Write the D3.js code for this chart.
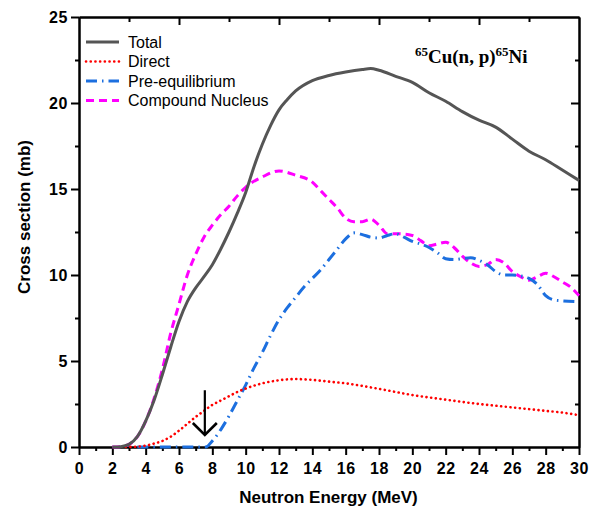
<!DOCTYPE html>
<html>
<head>
<meta charset="utf-8">
<script src="https://cdn.jsdelivr.net/npm/d3@7"></script>
<style>
  body { margin: 0; background: #fff; }
  svg { display: block; }
  .tick text { font-family: "Liberation Sans", Arial, sans-serif; font-weight: bold; font-size: 16px; letter-spacing: 0.6px; }
  .axis path, .axis line { stroke: #000; stroke-width: 2; }
  .legend text { font-family: "Liberation Sans", Arial, sans-serif; font-size: 16px; }
</style>
</head>
<body>
<script>
// 65Cu(n,p)65Ni cross sections (E in MeV, sigma in mb)
var totalE = [2, 2.5, 3, 3.5, 4, 4.5, 5, 5.5, 6, 6.5, 7, 7.5, 8, 8.5, 9, 9.5, 10, 10.5, 11, 11.5, 12, 12.5, 13, 14, 15, 16, 17, 17.5, 18, 19, 20, 21, 22, 23, 24, 25, 26, 27, 28, 29, 30];
var totalXS = [0, 0.02, 0.15, 0.6, 1.5, 2.7, 4.2, 5.8, 7.3, 8.45, 9.25, 9.9, 10.6, 11.5, 12.5, 13.6, 14.8, 16.3, 17.6, 18.7, 19.6, 20.2, 20.7, 21.3, 21.6, 21.8, 21.95, 22.0, 21.9, 21.55, 21.2, 20.6, 20.1, 19.5, 19.0, 18.6, 17.9, 17.2, 16.7, 16.1, 15.5];

var directE = [2.8, 3.5, 4, 4.5, 5, 5.5, 6, 6.5, 7, 7.5, 8, 8.5, 9, 9.5, 10, 11, 12, 13, 14, 15, 16, 17, 18, 19, 20, 21, 22, 23, 24, 25, 26, 27, 28, 29, 30];
var directXS = [0, 0.02, 0.08, 0.2, 0.35, 0.6, 0.95, 1.35, 1.75, 2.1, 2.45, 2.7, 2.95, 3.2, 3.4, 3.7, 3.88, 3.95, 3.9, 3.8, 3.7, 3.55, 3.38, 3.2, 3.02, 2.88, 2.75, 2.62, 2.5, 2.4, 2.3, 2.2, 2.1, 2.0, 1.85];

var preeqE = [3.5, 7.6, 8, 8.5, 9, 9.5, 10, 10.5, 11, 11.5, 12, 12.5, 13, 13.5, 14, 14.5, 15, 15.5, 16, 16.5, 17, 17.5, 18, 18.5, 19, 19.5, 20, 20.5, 21, 21.5, 22, 22.5, 23, 23.5, 24, 24.5, 25, 25.5, 26, 26.5, 27, 27.5, 28, 28.5, 29, 30];
var preeqXS = [0, 0, 0.35, 1.0, 1.8, 2.7, 3.6, 4.6, 5.5, 6.5, 7.4, 8.1, 8.7, 9.3, 9.8, 10.3, 10.9, 11.5, 12.1, 12.45, 12.35, 12.2, 12.15, 12.3, 12.4, 12.2, 11.95, 11.8, 11.6, 11.3, 10.95, 10.9, 10.95, 11.0, 10.85, 10.6, 10.2, 10.0, 10.0, 9.95, 9.8, 9.45, 8.8, 8.55, 8.5, 8.45];

var compoundE = [2, 2.5, 3, 3.5, 4, 4.5, 5, 5.5, 6, 6.5, 7, 7.5, 8, 8.5, 9, 9.5, 10, 11, 12, 13, 14, 14.5, 15, 15.5, 16, 16.5, 17, 17.5, 18, 18.5, 19, 20, 20.5, 21, 21.5, 22, 22.5, 23, 23.5, 24, 24.5, 25, 25.5, 26, 26.5, 27, 27.5, 28, 28.5, 29, 29.5, 30];
var compoundXS = [0, 0.02, 0.15, 0.6, 1.5, 2.8, 4.5, 6.6, 8.3, 10.0, 11.2, 12.2, 12.9, 13.5, 14.0, 14.6, 15.1, 15.7, 16.05, 15.8, 15.4, 14.9, 14.4, 13.9, 13.3, 13.1, 13.1, 13.25, 12.9, 12.4, 12.4, 12.3, 12.0, 11.7, 11.8, 11.9, 11.6, 11.1, 10.7, 10.5, 10.6, 10.9, 10.7, 10.2, 9.9, 9.7, 9.9, 10.1, 9.9, 9.6, 9.3, 8.8];

var seriesNames = ["Total", "Direct", "Pre-equilibrium", "Compound Nucleus"];
var xMajor = d3.range(0, 31, 2);
var yMajor = [0, 5, 10, 15, 20, 25];
var arrowE = 7.55, arrowFrom = 3.3, arrowTo = 0.7;

var W = 589, H = 508;
var margin = {top: 17, right: 10, bottom: 61, left: 79}
  , width = W - margin.left - margin.right
  , height = H - margin.top - margin.bottom;

var svg = d3.select("body").append("svg")
    .attr("width", W)
    .attr("height", H)
  .append("g")
    .attr("transform", "translate(" + margin.left + "," + margin.top + ")");

var x = d3.scaleLinear().domain([0, 30]).range([0, width]);
var y = d3.scaleLinear().domain([0, 25]).range([height, 0]);

function zip(es, vs) { return es.map(function(e, i) { return {e: e, v: vs[i]}; }); }

var series = [
  {name: seriesNames[0], data: zip(totalE, totalXS), color: "#555555", dash: null, cap: "butt", w: 3},
  {name: seriesNames[1], data: zip(directE, directXS), color: "#ff0000", dash: "0.1 4.6", cap: "round", w: 2.6},
  {name: seriesNames[2], data: zip(preeqE, preeqXS), color: "#1c6fdf", dash: "11 5 1.5 5", cap: "butt", w: 3},
  {name: seriesNames[3], data: zip(compoundE, compoundXS), color: "#ff00ff", dash: "8 5", cap: "butt", w: 3}
];

// axes: bottom + left outward, top + right inward
function fmtNone() { return ""; }

svg.append("g").attr("class", "axis")
    .attr("transform", "translate(0," + height + ")")
    .call(d3.axisBottom(x).tickValues(d3.range(1, 30, 2)).tickSize(4).tickSizeOuter(0).tickFormat(fmtNone));
svg.append("g").attr("class", "axis")
    .attr("transform", "translate(0," + height + ")")
    .call(d3.axisBottom(x).tickValues(xMajor).tickSize(8).tickPadding(8).tickSizeOuter(0).tickFormat(d3.format("d")));

svg.append("g").attr("class", "axis")
    .call(d3.axisLeft(y).tickValues([2.5, 7.5, 12.5, 17.5, 22.5]).tickSize(4).tickSizeOuter(0).tickFormat(fmtNone));
svg.append("g").attr("class", "axis")
    .call(d3.axisLeft(y).tickValues(yMajor).tickSize(8).tickPadding(3).tickSizeOuter(0).tickFormat(d3.format("d")));

svg.append("g").attr("class", "axis")
    .call(d3.axisBottom(x).tickValues([3, 9, 15, 21, 27]).tickSize(5).tickSizeOuter(0).tickFormat(fmtNone));
svg.append("g").attr("class", "axis")
    .call(d3.axisBottom(x).tickValues([6, 12, 18, 24]).tickSize(8).tickSizeOuter(0).tickFormat(fmtNone));

svg.append("g").attr("class", "axis")
    .attr("transform", "translate(" + width + ",0)")
    .call(d3.axisLeft(y).tickValues([2.5, 7.5, 12.5, 17.5, 22.5]).tickSize(4).tickSizeOuter(0).tickFormat(fmtNone));
svg.append("g").attr("class", "axis")
    .attr("transform", "translate(" + width + ",0)")
    .call(d3.axisLeft(y).tickValues([5, 10, 15, 20]).tickSize(8).tickSizeOuter(0).tickFormat(fmtNone));

// curves
var line = d3.line()
    .x(function(d) { return x(d.e); })
    .y(function(d) { return y(d.v); })
    .curve(d3.curveMonotoneX);

var gLines = svg.append("g");
series.slice().reverse().forEach(function(s) {
  gLines.append("path")
      .datum(s.data)
      .attr("d", line)
      .attr("fill", "none")
      .attr("stroke", s.color)
      .attr("stroke-width", s.w)
      .attr("stroke-linecap", s.cap)
      .attr("stroke-dasharray", s.dash);
});

// arrow marking the threshold
var ax = x(arrowE), ay0 = y(arrowFrom), ay1 = y(arrowTo);
svg.append("line")
    .attr("x1", ax).attr("x2", ax).attr("y1", ay0).attr("y2", ay1 - 1)
    .attr("stroke", "#000").attr("stroke-width", 2.2);
svg.append("path")
    .attr("d", "M" + (ax - 12) + "," + (ay1 - 12) + "L" + ax + "," + ay1 + "L" + (ax + 12) + "," + (ay1 - 12))
    .attr("fill", "none").attr("stroke", "#000").attr("stroke-width", 2.6);

// legend
var legend = svg.append("g").attr("class", "legend")
    .attr("transform", "translate(7,25)");
series.forEach(function(s, i) {
  var row = legend.append("g").attr("transform", "translate(0," + (i * 19.5) + ")");
  row.append("line")
      .attr("x1", 0).attr("x2", 33).attr("y1", 0).attr("y2", 0)
      .attr("stroke", s.color)
      .attr("stroke-width", s.w)
      .attr("stroke-linecap", s.cap)
      .attr("stroke-dasharray", s.dash);
  row.append("text")
      .attr("x", 42).attr("y", 0).attr("dy", "0.35em")
      .text(s.name);
});

// reaction label
var title = svg.append("text")
    .attr("x", 336).attr("y", 46)
    .style("font-family", "'Liberation Serif', 'Times New Roman', serif")
    .style("font-weight", "bold")
    .style("font-size", "19px");
title.append("tspan").attr("dy", -7).style("font-size", "13px").text("65");
title.append("tspan").attr("dy", 7).text("Cu(n, p)");
title.append("tspan").attr("dy", -7).style("font-size", "13px").text("65");
title.append("tspan").attr("dy", 7).text("Ni");

// axis titles
svg.append("text")
    .attr("x", width / 2 - 0.5).attr("y", height + 56)
    .attr("text-anchor", "middle")
    .style("font-family", "'Liberation Sans', Arial, sans-serif")
    .style("font-weight", "bold")
    .style("font-size", "17px")
    .text("Neutron Energy (MeV)");

svg.append("text")
    .attr("transform", "translate(" + (30 - margin.left) + "," + 200 + ") rotate(-90)")
    .attr("text-anchor", "middle")
    .style("font-family", "'Liberation Sans', Arial, sans-serif")
    .style("font-weight", "bold")
    .style("font-size", "17px")
    .text("Cross section (mb)");
</script>
</body>
</html>
